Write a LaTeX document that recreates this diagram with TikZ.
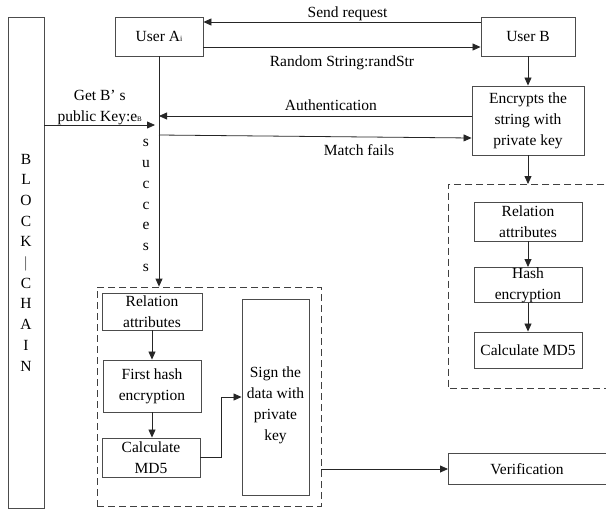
\documentclass[tikz,border=0pt]{standalone}
\usepackage{fontspec}
\setmainfont{Liberation Serif}
\usetikzlibrary{arrows.meta}

\tikzset{
	box/.style={draw=black!70, line width=0.9pt, align=center, inner sep=0pt},
	dashbox/.style={draw=black!75, line width=0.8pt, dash pattern=on 7pt off 4pt},
	arr/.style={draw=black!85, line width=0.8pt, -{Triangle[length=8pt,width=7pt]}},
	vtext/.style={align=center, inner sep=0pt, font=\fontsize{15.5}{20.7}\selectfont}
}

\begin{document}
\begin{tikzpicture}[x=1pt, y=-1pt, font=\fontsize{15.5}{21}\selectfont]
		\useasboundingbox (0,0) rectangle (606,509);
		\clip (0,0) rectangle (606,509);

		\node[box, vtext, minimum width=36pt, minimum height=491pt] (chain) at (26,262.5)
			{B\\L\\O\\C\\K\\$|$\\C\\H\\A\\I\\N};

		\node[box, minimum width=88pt, minimum height=39pt] (userA) at (159,36.5) {User A{\footnotesize i}};
		\node[box, minimum width=94pt, minimum height=39pt] (userB) at (528,36.5) {User B};
		\node[box, minimum width=112pt, minimum height=69pt] (enc) at (528,120.5) {Encrypts the\\string with\\private key};

		\node[minimum width=200pt, minimum height=204pt, anchor=north west] (grpR) at (448,184) {};
		\draw[dashbox] (grpR.north east) -- (grpR.north west) -- (grpR.south west) -- (grpR.south east);
		\node[box, minimum width=108pt, minimum height=39pt] (relR) at (528,221.5) {Relation\\attributes};
		\node[box, minimum width=108pt, minimum height=34pt] (hashR) at (528,285) {Hash\\encryption};
		\node[box, minimum width=108pt, minimum height=36pt] (calcR) at (528,350) {Calculate MD5};

		\node[dashbox, minimum width=224pt, minimum height=219pt] (grpL) at (209,396.5) {};
		\node[box, minimum width=100pt, minimum height=37pt] (relL) at (152,311.5) {Relation\\attributes};
		\node[box, minimum width=98pt, minimum height=52pt] (firstL) at (152,386) {First hash\\encryption};
		\node[box, minimum width=98pt, minimum height=39pt] (calcL) at (151,457.5) {Calculate\\MD5};
		\node[box, minimum width=67pt, minimum height=196pt] (sign) at (275.5,397) {};
		\node[align=center, inner sep=0pt] (signT) at (275.5,405) {Sign the\\data with\\private\\key};

		\node[minimum width=200pt, minimum height=30pt, anchor=west] (verif) at (448,469) {};
		\draw[box] (verif.north east) -- (verif.north west) -- (verif.south west) -- (verif.south east);
		\node (verifT) at (527,469) {Verification};

		\node[vtext] (succ) at (146,205.5) {s\\u\\c\\c\\e\\s\\s};

		\coordinate (authE) at (159,116);
		\coordinate (failS) at (159,135);
		\coordinate (keyE) at (155,125);

		\draw[arr] ([yshift=14.5pt]userB.west) -- node[above, inner sep=1pt, pos=0.48] (sendL) {Send request} ([yshift=14.5pt]userA.east);
		\draw[arr] ([yshift=-10.5pt]userA.east) -- node[below=5pt] (randL) {Random String:randStr} ([yshift=-10.5pt]userB.west);
		\draw[arr] (userB) -- (enc);
		\draw[arr] ([yshift=4.5pt]enc.west) -- node[above=2pt, pos=0.45] (authL) {Authentication} (authE);
		\draw[arr] (failS) -- node[below=4pt, pos=0.64] (failL) {Match fails} ([yshift=-17.5pt]enc.west);
		\draw[arr] (chain.east |- keyE) -- node[above, inner sep=0pt, align=center] (keyL) {Get B’ s\\public Key:e{\scriptsize B}} (keyE);
		\draw[arr] (userA.south) -- (userA.south |- grpL.north);

		\draw[arr] (enc.south) -- (enc.south |- grpR.north);
		\draw[arr] (relR) -- (hashR);
		\draw[arr] (hashR) -- (calcR);

		\draw[arr] (relL) -- (firstL);
		\draw[arr] (firstL) -- (firstL |- calcL.north);
		\draw[arr] (calcL.east) -- ++(21,0) |- (sign.west);
		\draw[arr] (verif.west -| grpL.east) -- (verif.west);
	\end{tikzpicture}
\end{document}
